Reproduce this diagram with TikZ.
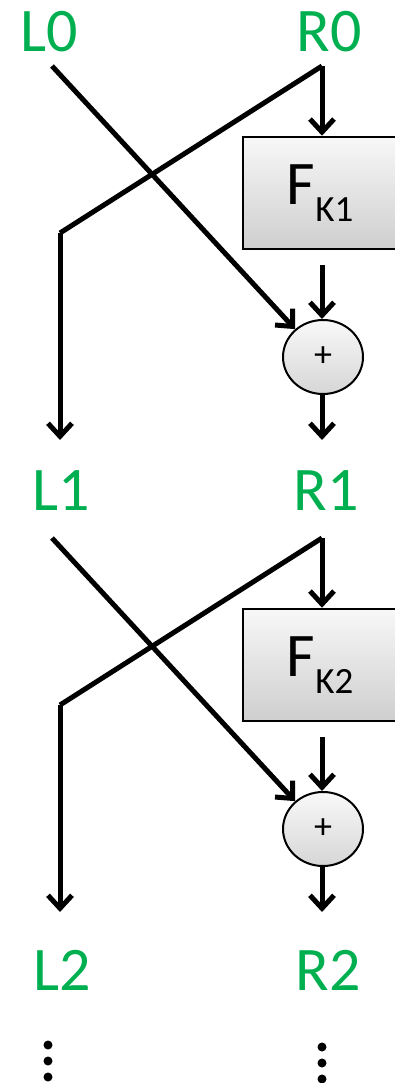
\documentclass[tikz,border=0pt]{standalone}
\usepackage{fontspec}
\setmainfont{Carlito}
\usetikzlibrary{arrows.meta,shapes.geometric}
\definecolor{lgreen}{RGB}{0,176,80}
\begin{document}
\begin{tikzpicture}[x=1pt,y=-1pt,
  lab/.style={text=lgreen,font=\fontsize{62}{70}\selectfont,inner sep=0pt,anchor=base},
  fbox/.style={draw=black,line width=2.5pt,top color=gray!6,bottom color=gray!38,minimum width=154pt,minimum height=112pt,inner sep=0pt,font=\fontsize{62}{70}\selectfont},
  xorc/.style={draw=black,line width=2pt,ellipse,top color=gray!5,bottom color=gray!32,minimum width=80pt,minimum height=74pt,inner sep=0pt,font=\fontsize{36}{40}\selectfont},
  wire/.style={line width=5pt},
  arr/.style={wire,-{Straight Barb[length=13pt,width=24pt,line width=5pt]}},
  dot/.style={circle,fill=black,inner sep=0pt,minimum size=9pt}
]
\useasboundingbox (0,0) rectangle (395,1083);
% labels
\node[lab] (L0) at (49,52) {L0};
\node[lab] (R0) at (329,52) {R0};
\node[lab] (L1) at (61,510) {L1};
\node[lab] (R1) at (326,510) {R1};
\node[lab] (L2) at (62,990) {L2};
\node[lab] (R2) at (328,990) {R2};
% round 1
\coordinate (a0) at (52,66);
\coordinate (b0) at (322,66);
\coordinate (c0) at (60,233);
\coordinate (d0) at (60,440);
\coordinate (e0) at (322,265);
\coordinate (g0) at (322,440);
\node[fbox] (F1) at (320,193) {F\raisebox{-17pt}{\fontsize{37}{40}\selectfont K1}};
\node[xorc] (X1) at (323,357) {+};
\draw[arr] (a0) -- (X1.135);
\draw[wire] (b0) -- (c0);
\draw[arr] (b0) -- (F1.north -| b0);
\draw[arr] (c0) -- (d0);
\draw[arr] (e0) -- (X1.north -| e0);
\draw[arr] (X1.south -| g0) -- (g0);
% round 2
\coordinate (a1) at (52,538);
\coordinate (b1) at (322,538);
\coordinate (c1) at (60,705);
\coordinate (d1) at (60,912);
\coordinate (e1) at (322,737);
\coordinate (g1) at (322,912);
\node[fbox] (F2) at (320,665) {F\raisebox{-17pt}{\fontsize{37}{40}\selectfont K2}};
\node[xorc] (X2) at (323,829) {+};
\draw[arr] (a1) -- (X2.135);
\draw[wire] (b1) -- (c1);
\draw[arr] (b1) -- (F2.north -| b1);
\draw[arr] (c1) -- (d1);
\draw[arr] (e1) -- (X2.north -| e1);
\draw[arr] (X2.south -| g1) -- (g1);
% dots
\node[dot] (dl1) at (48,1045) {};
\node[dot] (dl2) at (48,1061) {};
\node[dot] (dl3) at (48,1077) {};
\node[dot] (dr1) at (322,1047) {};
\node[dot] (dr2) at (322,1063) {};
\node[dot] (dr3) at (322,1079) {};
\end{tikzpicture}
\end{document}
